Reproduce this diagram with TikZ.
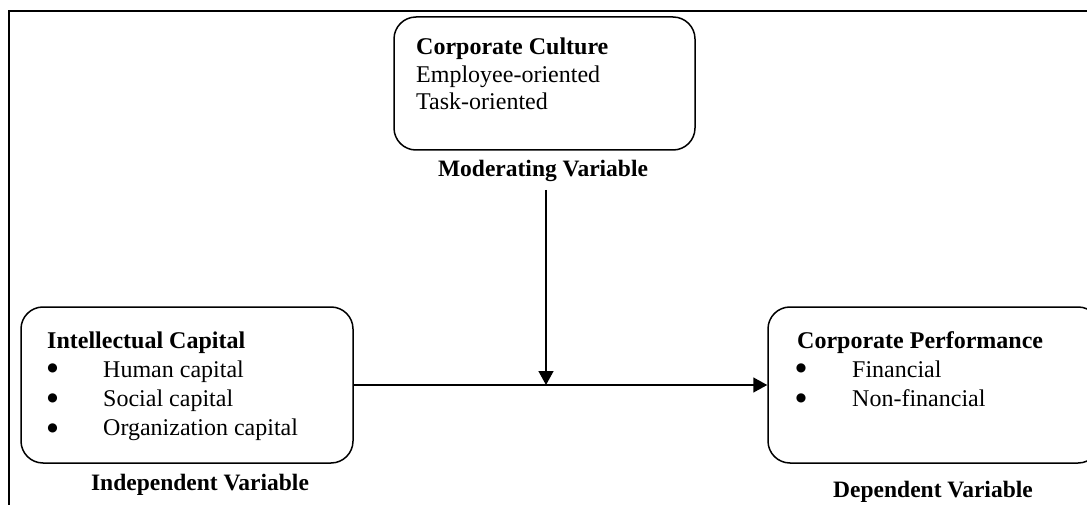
\documentclass[tikz,border=0pt]{standalone}
\usepackage{fontspec}
\setmainfont{Liberation Serif}
\newfontfamily\dejavu{DejaVu Sans}
\usetikzlibrary{arrows.meta}
\begin{document}
\begin{tikzpicture}[x=1pt,y=-1pt,
  box/.style={draw,line width=1.5pt,rounded corners=22pt,inner sep=0pt},
  txt/.style={anchor=base west,inner sep=0pt,font=\fontsize{24}{29}\selectfont},
  btxt/.style={txt,font=\fontsize{24}{29}\selectfont\bfseries},
  lbl/.style={anchor=base,inner sep=0pt,font=\fontsize{23.5}{29}\selectfont\bfseries},
  bul/.style={anchor=center,inner sep=0pt,font=\dejavu\fontsize{12}{12}\selectfont},
  conn/.style={line width=1.5pt,-{Triangle[length=14pt,width=15pt]}}]
\useasboundingbox (0,0) rectangle (1087,505);
% frame
\draw[line width=2.6pt] (9,506) -- (9,11) -- (1088,11);
% boxes
\node[box,minimum width=301pt,minimum height=133pt] (cc) at (544.5,83.5) {};
\node[box,minimum width=332pt,minimum height=156pt] (ic) at (187,385) {};
\node[box,minimum width=332pt,minimum height=156pt] (cp) at (934,385) {};
% top box text
\node[btxt] (cct) at (416,55) {Corporate Culture};
\node[txt] (cc1) at (416,83) {Employee-oriented};
\node[txt] (cc2) at (416,110) {Task-oriented};
\node[lbl] (mv) at (543,177) {Moderating Variable};
% left box text
\node[btxt] (ict) at (47,348) {Intellectual Capital};
\node[bul] (ib1) at (52.5,368) {●};
\node[bul] (ib2) at (52.5,398) {●};
\node[bul] (ib3) at (52.5,428) {●};
\node[txt] (ic1) at (103,377) {Human capital};
\node[txt] (ic2) at (103,406) {Social capital};
\node[txt] (ic3) at (103,435) {Organization capital};
\node[lbl] (iv) at (200,490) {Independent Variable};
% right box text
\node[btxt] (cpt) at (797,348) {Corporate Performance};
\node[bul] (cb1) at (801,368) {●};
\node[bul] (cb2) at (801,398) {●};
\node[txt] (cp1) at (852,377) {Financial};
\node[txt] (cp2) at (852,406) {Non-financial};
\node[lbl] (dv) at (933,497) {Dependent Variable};
% connectors
\coordinate (top) at (546,190);
\coordinate (j) at (546,385);
\draw[conn] (ic.east) -- (cp.west);
\draw[conn] (top) -- (j);
\end{tikzpicture}
\end{document}
